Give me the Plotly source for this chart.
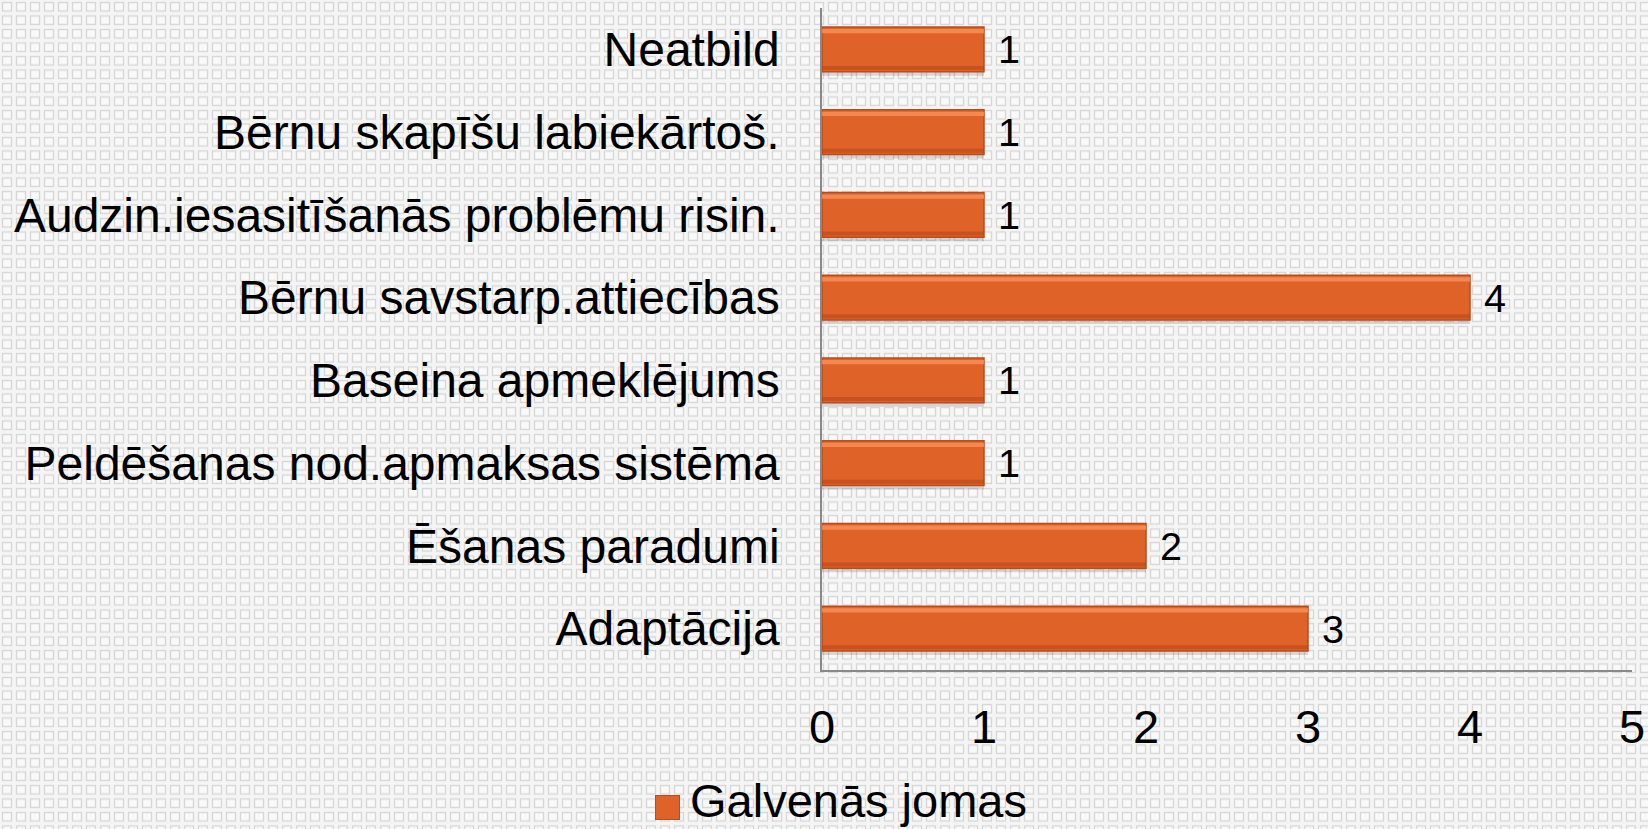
import base64
import plotly.graph_objects as go

categories = ["Adaptācija", "Ēšanas paradumi", "Peldēšanas nod.apmaksas sistēma",
              "Baseina apmeklējums", "Bērnu savstarp.attiecības",
              "Audzin.iesasitīšanās problēmu risin.", "Bērnu skapīšu labiekārtoš.", "Neatbild"]
values = [3, 2, 1, 1, 4, 1, 1, 1]
series_name = "Galvenās jomas"
x_ticks = [0, 1, 2, 3, 4, 5]

W, H = 1648, 829
L, R, T, B = 822, 16, 8, 159
pw, ph = W - L - R, H - T - B

BAR = "#DF6228"
FONT = "Liberation Sans, Arial, sans-serif"
FS = 47
YFS = 48
BW = 0.54


def px_x(p):
    return (p - L) / pw


def px_y(p):
    return (H - B - p) / ph


svg = f'''<svg xmlns="http://www.w3.org/2000/svg" width="{W}" height="{H}">
<defs><pattern id="p" width="14" height="13.5" patternUnits="userSpaceOnUse">
<rect width="14" height="13.5" fill="#F5F5F5"/>
<rect x="2.5" y="2.5" width="9" height="8.5" fill="#F9F9F9" stroke="#D6D6D6" stroke-width="1.3"/>
</pattern></defs>
<rect width="{W}" height="{H}" fill="url(#p)"/></svg>'''
bg_src = "data:image/svg+xml;base64," + base64.b64encode(svg.encode()).decode()

fig = go.Figure()
# soft shadow under the bars
fig.add_trace(go.Bar(
    y=categories, x=values, orientation="h", width=BW, offset=-BW / 2 - 0.05,
    marker=dict(color="rgba(60,60,60,0.18)", line=dict(width=0)),
    showlegend=False, hoverinfo="skip",
))
# main bars
fig.add_trace(go.Bar(
    y=categories, x=values, orientation="h", width=BW, offset=-BW / 2,
    marker=dict(color=BAR, line=dict(color="#B84C1C", width=1.5)),
    texttemplate=" %{x}", textposition="outside",
    textfont=dict(size=FS, color="black", family=FONT),
    cliponaxis=False, showlegend=False, name=series_name,
))
# bevel highlight (top edge)
fig.add_trace(go.Bar(
    y=categories, x=values, orientation="h", width=0.05, offset=BW / 2 - 0.075,
    marker=dict(color="rgba(250,150,95,0.75)", line=dict(width=0)),
    showlegend=False, hoverinfo="skip",
))
# bevel shade (bottom edge)
fig.add_trace(go.Bar(
    y=categories, x=values, orientation="h", width=0.05, offset=-BW / 2 + 0.02,
    marker=dict(color="rgba(170,65,20,0.45)", line=dict(width=0)),
    showlegend=False, hoverinfo="skip",
))

fig.update_layout(
    width=W, height=H,
    margin=dict(l=L, r=R, t=T, b=B, autoexpand=False),
    paper_bgcolor="#F3F3F3", plot_bgcolor="rgba(0,0,0,0)",
    barmode="overlay", showlegend=False,
    font=dict(family=FONT, size=FS, color="black"),
    images=[dict(source=bg_src, xref="paper", yref="paper",
                 x=-L / pw, y=1 + T / ph, sizex=W / pw, sizey=H / ph,
                 xanchor="left", yanchor="top", sizing="stretch", layer="below")],
    xaxis=dict(range=[0, 5], tickvals=x_ticks, showgrid=False, zeroline=False,
               showline=True, linecolor="#898989", linewidth=1.5,
               ticks="", ticklabelstandoff=15,
               tickfont=dict(size=FS, family=FONT)),
    yaxis=dict(categoryorder="array", categoryarray=categories,
               showgrid=False, zeroline=False, showline=True,
               linecolor="#898989", linewidth=1.5, ticks="",
               ticklabelstandoff=31, tickfont=dict(size=YFS, family=FONT)),
    annotations=[
        # legend key
        dict(text=" ", xref="paper", yref="paper", x=px_x(667.5), y=px_y(807.5),
             xanchor="center", yanchor="middle", showarrow=False,
             width=23, height=23, bgcolor=BAR, bordercolor="#B84C1C", borderwidth=1,
             borderpad=0, font=dict(size=4)),
        # legend label
        dict(text=series_name, xref="paper", yref="paper", x=px_x(688), y=px_y(800),
             xanchor="left", yanchor="middle", showarrow=False,
             font=dict(size=FS, family=FONT, color="black")),
    ],
)

fig.write_html("out.html", config={"displayModeBar": False},
               post_script="document.body.style.margin='0';")
